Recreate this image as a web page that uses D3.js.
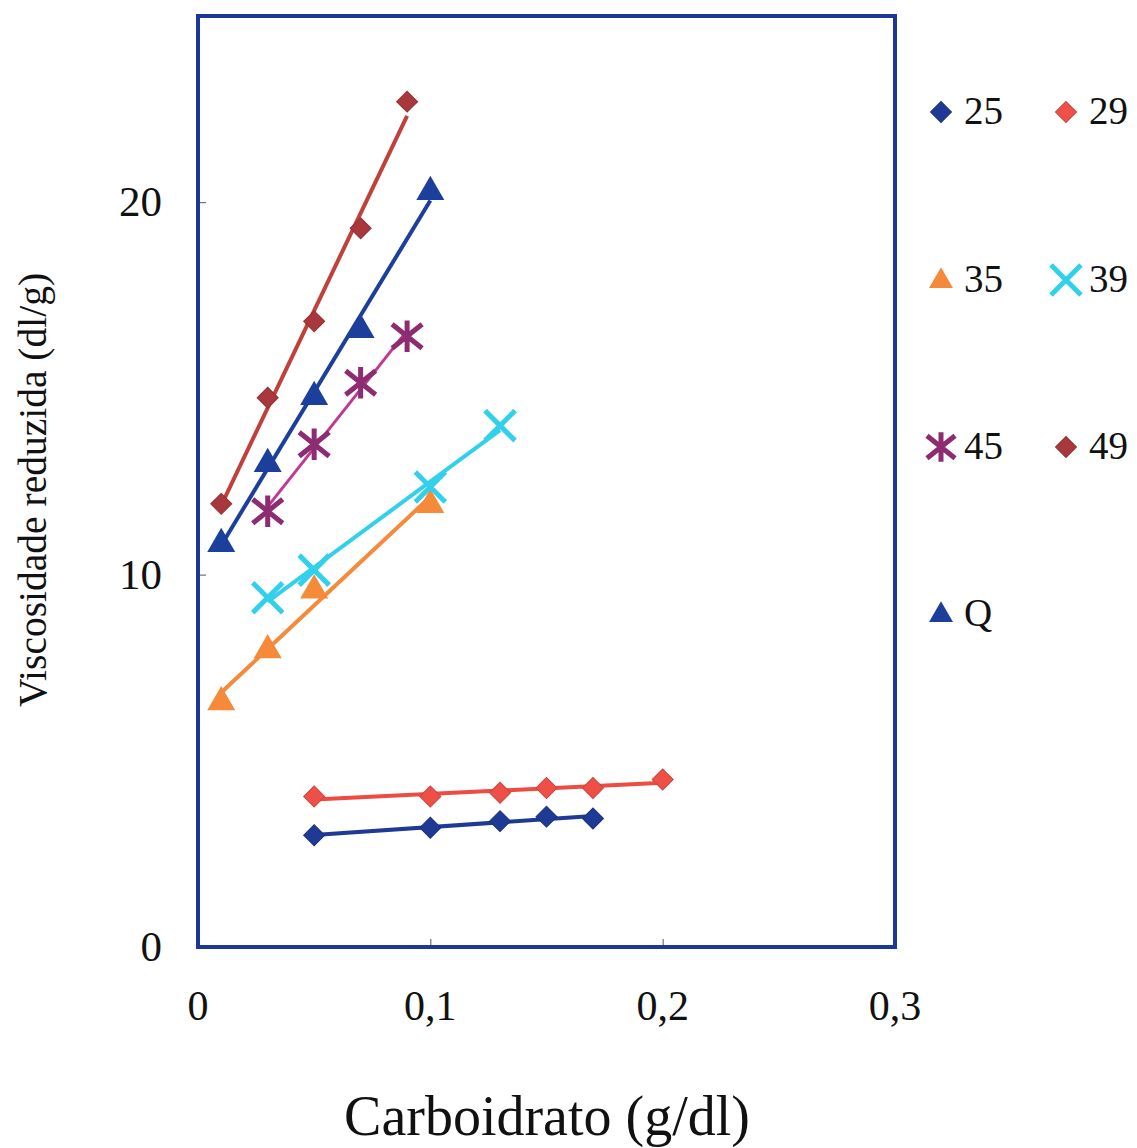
<!DOCTYPE html>
<html>
<head>
<meta charset="utf-8">
<script src="https://cdn.jsdelivr.net/npm/d3@7"></script>
<style>
  body { margin: 0; background: #fff; }
  text { font-family: "Liberation Serif", "Times New Roman", serif; fill: #111; }
</style>
</head>
<body>
<div id="chart"></div>
<script>
// data
var seriesNames = ["25", "29", "35", "39", "45", "49", "Q"];
var x25 = [0.05, 0.1, 0.13, 0.15, 0.17];
var y25 = [3.0, 3.2, 3.38, 3.5, 3.45];
var x29 = [0.05, 0.1, 0.13, 0.15, 0.17, 0.2];
var y29 = [4.04, 4.04, 4.14, 4.27, 4.27, 4.5];
var x35 = [0.01, 0.03, 0.05, 0.1];
var y35 = [6.6, 8.0, 9.6, 11.9];
var x39 = [0.03, 0.05, 0.1, 0.13];
var y39 = [9.38, 10.12, 12.35, 14.0];
var x45 = [0.03, 0.05, 0.07, 0.09];
var y45 = [11.7, 13.5, 15.15, 16.4];
var x49 = [0.01, 0.03, 0.05, 0.07, 0.09];
var y49 = [11.9, 14.75, 16.8, 19.3, 22.7];
var xQ = [0.01, 0.03, 0.05, 0.07, 0.1];
var yQ = [10.85, 13.0, 14.8, 16.6, 20.3];
var xTicks = [0, 0.1, 0.2, 0.3];
var yTicks = [0, 10, 20];

var W = 1137, H = 1148;
var pL = 198, pR = 895, pT = 16, pB = 947;

var svg = d3.select("#chart").append("svg").attr("width", W).attr("height", H);

var x = d3.scaleLinear().domain([0, 0.3]).range([pL, pR]);
var y = d3.scaleLinear().domain([0, 25]).range([pB, pT]);

// styles for each series
var style = {
  "25": {line: "#1f3a94", marker: "#1f3a94", sym: "diamond"},
  "29": {line: "#ee4b43", marker: "#ee5048", sym: "diamond"},
  "35": {line: "#f58a3a", marker: "#f58a3a", sym: "triangle"},
  "39": {line: "#33d0ec", marker: "#33d0ec", sym: "x"},
  "45": {line: "#c03a94", marker: "#8e2c72", sym: "star"},
  "49": {line: "#c0403c", marker: "#a8383b", sym: "diamond"},
  "Q":  {line: "#1d3f9c", marker: "#1d3f9c", sym: "triangle"}
};
var xs = {"25": x25, "29": x29, "35": x35, "39": x39, "45": x45, "49": x49, "Q": xQ};
var ys = {"25": y25, "29": y29, "35": y35, "39": y39, "45": y45, "49": y49, "Q": yQ};

// ticks, pointing into the plot
var xAxis = d3.axisBottom(x).tickValues(xTicks.slice(1, 3)).tickSize(-8).tickFormat("");
svg.append("g").attr("transform", "translate(0," + pB + ")").call(xAxis)
  .call(function (g) { g.select(".domain").remove(); g.selectAll("line").attr("stroke", "#555"); });
var yAxis = d3.axisLeft(y).tickValues(yTicks.slice(1)).tickSize(-8).tickFormat("");
svg.append("g").attr("transform", "translate(" + pL + ",0)").call(yAxis)
  .call(function (g) { g.select(".domain").remove(); g.selectAll("line").attr("stroke", "#555"); });

// tick labels
svg.selectAll(".xl").data(xTicks).enter().append("text")
  .attr("x", function (d) { return x(d); }).attr("y", 1020)
  .attr("text-anchor", "middle").attr("font-size", 42)
  .text(function (d) { return d === 0 ? "0" : String(d).replace(".", ","); });
svg.selectAll(".yl").data(yTicks).enter().append("text")
  .attr("x", pL - 36).attr("y", function (d) { return y(d) + 14; })
  .attr("text-anchor", "end").attr("font-size", 43)
  .text(function (d) { return d; });

// axis titles
svg.append("text").attr("x", 547).attr("y", 1135).attr("text-anchor", "middle")
  .attr("font-size", 56).text("Carboidrato (g/dl)");
svg.append("text").attr("transform", "translate(46,490) rotate(-90)")
  .attr("text-anchor", "middle").attr("font-size", 39.5).text("Viscosidade reduzida (dl/g)");

// w = marker width in px
function drawMarker(g, sym, color, cx, cy, w) {
  if (sym === "diamond") {
    g.append("path").attr("d", d3.symbol(d3.symbolSquare, w * w / 2)())
      .attr("transform", "translate(" + cx + "," + cy + ") rotate(45)")
      .attr("fill", color).attr("stroke", d3.color(color).darker(0.4)).attr("stroke-width", 1);
  } else if (sym === "triangle") {
    g.append("path").attr("d", d3.symbol(d3.symbolTriangle, 0.433 * w * w)())
      .attr("transform", "translate(" + cx + "," + (cy + 1) + ")")
      .attr("fill", color);
  } else if (sym === "x") {
    var r = w / 2;
    g.append("path").attr("d", "M" + (cx - r) + "," + (cy - r) + "L" + (cx + r) + "," + (cy + r) +
        "M" + (cx - r) + "," + (cy + r) + "L" + (cx + r) + "," + (cy - r))
      .attr("stroke", color).attr("stroke-width", 5).attr("fill", "none");
  } else if (sym === "star") {
    var r2 = w / 2;
    g.append("path").attr("d", "M" + (cx - r2) + "," + (cy - r2 * 0.8) + "L" + (cx + r2) + "," + (cy + r2 * 0.8) +
        "M" + (cx - r2) + "," + (cy + r2 * 0.8) + "L" + (cx + r2) + "," + (cy - r2 * 0.8) +
        "M" + cx + "," + (cy - r2 * 1.05) + "L" + cx + "," + (cy + r2 * 1.05))
      .attr("stroke", color).attr("stroke-width", 5).attr("fill", "none");
  }
}

// linear trendline over each series' x range, then markers
var plot = svg.append("g");
seriesNames.forEach(function (name) {
  var xv = xs[name], yv = ys[name], st = style[name];
  var mx = d3.mean(xv), my = d3.mean(yv);
  var sxy = d3.sum(xv, function (d, i) { return (d - mx) * (yv[i] - my); });
  var sxx = d3.sum(xv, function (d) { return (d - mx) * (d - mx); });
  var b = sxy / sxx, a = my - b * mx;
  var x0 = d3.min(xv), x1 = d3.max(xv);
  plot.append("line")
    .attr("x1", x(x0)).attr("y1", y(a + b * x0))
    .attr("x2", x(x1)).attr("y2", y(a + b * x1))
    .attr("stroke", st.line).attr("stroke-width", name === "45" ? 3 : 4);
});
var plotSize = {diamond: 21, triangle: 28, x: 30, star: 30};
seriesNames.forEach(function (name) {
  var xv = xs[name], yv = ys[name], st = style[name];
  xv.forEach(function (d, i) { drawMarker(plot, st.sym, st.marker, x(d), y(yv[i]), plotSize[st.sym]); });
});

// frame
svg.append("rect").attr("x", pL).attr("y", pT).attr("width", pR - pL).attr("height", pB - pT)
  .attr("fill", "none").attr("stroke", "#1c3896").attr("stroke-width", 4);

// legend
var legRows = [112, 280, 447, 614];
var legCols = [941, 1066];
var legSize = {diamond: 21, triangle: 24, x: 30, star: 28};
var legend = svg.append("g");
seriesNames.forEach(function (name, i) {
  var cx = legCols[i % 2], cy = legRows[Math.floor(i / 2)];
  var st = style[name];
  drawMarker(legend, st.sym, st.marker, cx, cy, legSize[st.sym]);
  legend.append("text").attr("x", cx + 23).attr("y", cy + 12).attr("font-size", 39).text(name);
});
</script>
</body>
</html>
